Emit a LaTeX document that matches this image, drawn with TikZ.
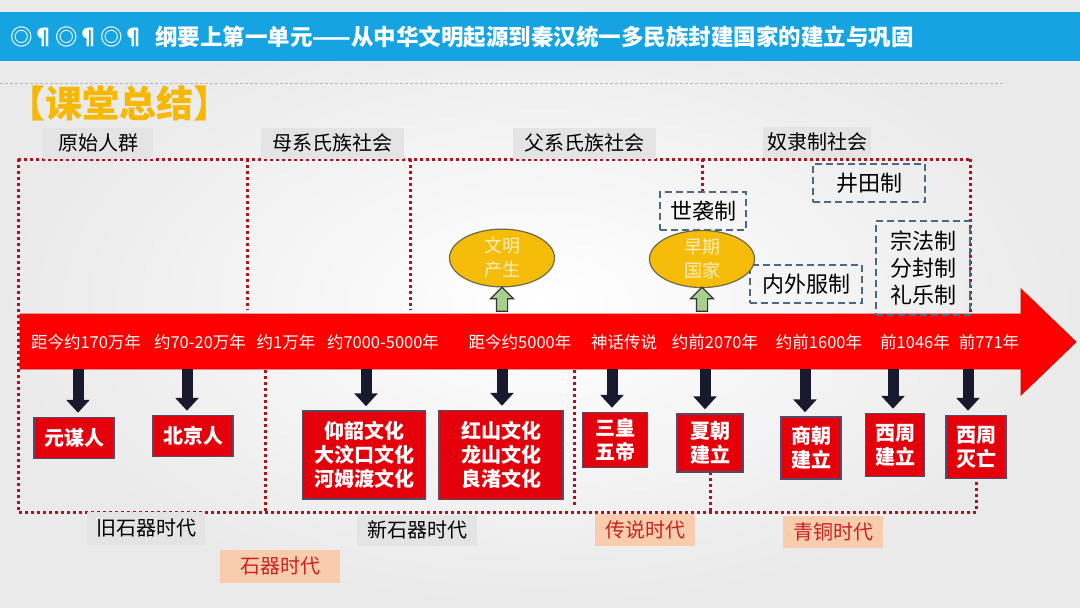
\documentclass[tikz,border=0pt]{standalone}
\usepackage{fontspec}
\setmainfont{Noto Sans CJK SC}
\usetikzlibrary{positioning,shapes.geometric,shapes.arrows,arrows.meta}

\definecolor{titleblue}{RGB}{22,163,226}
\definecolor{gold}{RGB}{246,184,0}
\definecolor{ovalfill}{RGB}{245,189,10}
\definecolor{ovaledge}{RGB}{110,105,70}
\definecolor{ovaltext}{RGB}{255,238,196}
\definecolor{dotred}{RGB}{170,20,35}
\definecolor{dashblue}{RGB}{75,105,135}
\definecolor{boxred}{RGB}{228,0,10}
\definecolor{boxedge}{RGB}{85,75,105}
\definecolor{labelgray}{RGB}{228,228,228}
\definecolor{peach}{RGB}{248,204,172}
\definecolor{agered}{RGB}{200,35,35}
\definecolor{upgreen}{RGB}{168,208,141}
\definecolor{navyarr}{RGB}{25,25,45}
\definecolor{bggray}{RGB}{234,234,234}

\tikzset{
  grouplabel/.style={fill=labelgray,inner sep=0pt,minimum height=31pt,font=\fontsize{20}{24}\selectfont},
  agelabel/.style={fill=peach,text=agered,inner sep=0pt,minimum height=32pt,minimum width=100pt,font=\fontsize{20}{24}\selectfont},
  eventbox/.style={rectangle,fill=boxred,draw=boxedge,line width=1.5pt,text=white,align=center,inner sep=0pt,font=\bfseries\fontsize{20}{24}\selectfont},
  systembox/.style={rectangle,draw=dashblue,line width=2pt,dash pattern=on 7pt off 4pt,align=center,inner sep=0pt,font=\fontsize{22}{27}\selectfont},
  milestone/.style={ellipse,fill=ovalfill,draw=ovaledge,line width=1.2pt,text=ovaltext,align=center,inner sep=0pt,minimum width=105pt,minimum height=52pt,font=\fontsize{18}{24}\selectfont},
  datelabel/.style={text=white,inner sep=0pt,font=\fontsize{16.5}{20}\selectfont},
  downarr/.style={color=navyarr,line width=11pt,shorten >=4pt,-{Triangle[width=23pt,length=13pt]}},
  uparr/.style={single arrow,shape border rotate=90,fill=upgreen,draw=black!80,line width=1.2pt,inner sep=5pt,single arrow head extend=6pt,minimum height=24pt},
  regionline/.style={draw=dotred,line width=3pt,dash pattern=on 3pt off 3pt}
}

\begin{document}
\begin{tikzpicture}[x=1pt,y=-1pt,on grid]
      \useasboundingbox (0,0) rectangle (1080,608);
      \shade[inner color=white,outer color=bggray] (0,0) rectangle (1080,608);
      \fill[titleblue] (0,12) rectangle (1080,61);
      \node[anchor=west,text=white,inner sep=0pt,font=\bfseries\fontsize{22.5}{24}\selectfont] (title) at (10,37) {◎¶◎¶◎¶\hspace{10pt}纲要上第一单元——从中华文明起源到秦汉统一多民族封建国家的建立与巩固};
      \draw[gray!55,line width=0.8pt,dash pattern=on 3pt off 2pt] (0,83) -- (1005,83);
      \node[anchor=west,text=gold,inner sep=0pt,font=\bfseries\fontsize{37}{40}\selectfont] (summary) at (8,103) {【课堂总结】};

      \draw[regionline] (18,159) -- (970,159);
      \draw[regionline] (18,159) -- (18,512) -- (976,512) -- (976,478);
      \draw[regionline] (247,159) -- (247,310);
      \draw[regionline] (410,159) -- (410,310);
      \draw[regionline] (702,159) -- (702,192);
      \draw[regionline] (970,159) -- (970,312);
      \draw[regionline] (265,370) -- (265,512);
      \draw[regionline] (574,370) -- (574,505);
      \draw[regionline] (710,472) -- (710,512);

      \fill[red,draw=red!85!black,line width=0.8pt] (20,314) -- (1021,314) -- (1021,289) -- (1076,342) -- (1021,395) -- (1021,369) -- (20,369) -- cycle;

      \node[grouplabel,minimum width=110pt] (yuanshi) at (98,143) {原始人群};
      \node[grouplabel,minimum width=143pt] (muxi) at (332,143) {母系氏族社会};
      \node[grouplabel,minimum width=143pt] (fuxi) at (584,143) {父系氏族社会};
      \node[grouplabel,minimum width=108pt] (nuli) at (817,142) {奴隶制社会};

      \node[systembox,minimum width=112pt,minimum height=38pt] (jingtian) at (869,183) {井田制};
      \node[systembox,minimum width=86pt,minimum height=38pt] (shixi) at (703,211) {世袭制};
      \node[systembox,minimum width=112pt,minimum height=38pt] (neiwai) at (806,284) {内外服制};
      \node[systembox,minimum width=94pt,minimum height=94pt] (zongfa) at (923,268) {宗法制\\分封制\\礼乐制};

      \node[milestone] (wenming) at (502,258) {文明\\产生};
      \node[milestone] (guojia) at (702,259) {早期\\国家};
      \node[uparr] (up1) at (502,302) {};
      \node[uparr] (up2) at (702,302) {};

      \node[datelabel] (t170) at (86,342) {距今约170万年};
      \node[datelabel,right=114pt of t170] (t70) {约70-20万年};
      \node[datelabel,right=86pt of t70] (t1w) {约1万年};
      \node[datelabel,right=97pt of t1w] (t7000) {约7000-5000年};
      \node[datelabel,right=137pt of t7000] (t5000) {距今约5000年};
      \node[datelabel,right=104pt of t5000] (tshenhua) {神话传说};
      \node[datelabel,right=91pt of tshenhua] (t2070) {约前2070年};
      \node[datelabel,right=104pt of t2070] (t1600) {约前1600年};
      \node[datelabel,right=96pt of t1600] (t1046) {前1046年};
      \node[datelabel,right=74pt of t1046] (t771) {前771年};

      \node[eventbox,minimum width=80pt,minimum height=41pt] (yuanmou) at (74,438) {元谋人};
      \node[eventbox,minimum width=80pt,minimum height=41pt] (beijing) at (193,436) {北京人};
      \node[eventbox,minimum width=123pt,minimum height=88pt] (yangshao) at (364,455) {仰韶文化\\大汶口文化\\河姆渡文化};
      \node[eventbox,minimum width=124pt,minimum height=89pt] (hongshan) at (501,455) {红山文化\\龙山文化\\良渚文化};
      \node[eventbox,minimum width=65pt,minimum height=55pt] (sanhuang) at (615,440) {三皇\\五帝};
      \node[eventbox,minimum width=66pt,minimum height=58pt] (xia) at (710,443) {夏朝\\建立};
      \node[eventbox,minimum width=60pt,minimum height=62pt] (shang) at (811,448) {商朝\\建立};
      \node[eventbox,minimum width=59pt,minimum height=63pt] (xizhou) at (895,445) {西周\\建立};
      \node[eventbox,minimum width=60pt,minimum height=63pt] (zhouend) at (976,447) {西周\\灭亡};

      \coordinate (a1) at (78,369);
      \coordinate (a2) at (187,369);
      \coordinate (a3) at (366,369);
      \coordinate (a4) at (502,369);
      \coordinate (a5) at (612,369);
      \coordinate (a6) at (705,369);
      \coordinate (a7) at (805,369);
      \coordinate (a8) at (893,369);
      \coordinate (a9) at (968,369);
      \path[downarr]
      (a1) edge (a1 |- yuanmou.north)
      (a2) edge (a2 |- beijing.north)
      (a3) edge (a3 |- yangshao.north)
      (a4) edge (a4 |- hongshan.north)
      (a5) edge (a5 |- sanhuang.north)
      (a6) edge (a6 |- xia.north)
      (a7) edge (a7 |- shang.north)
      (a8) edge (a8 |- xizhou.north)
      (a9) edge (a9 |- zhouend.north)
      ;

      \node[grouplabel,minimum width=118pt,minimum height=33pt] (jiushi) at (146,528) {旧石器时代};
      \node[grouplabel,minimum width=120pt] (xinshi) at (417,530) {新石器时代};
      \node[agelabel,minimum width=120pt,minimum height=33pt] (shiqi) at (280,566) {石器时代};
      \node[agelabel] (chuanshuo) at (645,530) {传说时代};
      \node[agelabel] (qingtong) at (833,532) {青铜时代};
    \end{tikzpicture}
\end{document}
